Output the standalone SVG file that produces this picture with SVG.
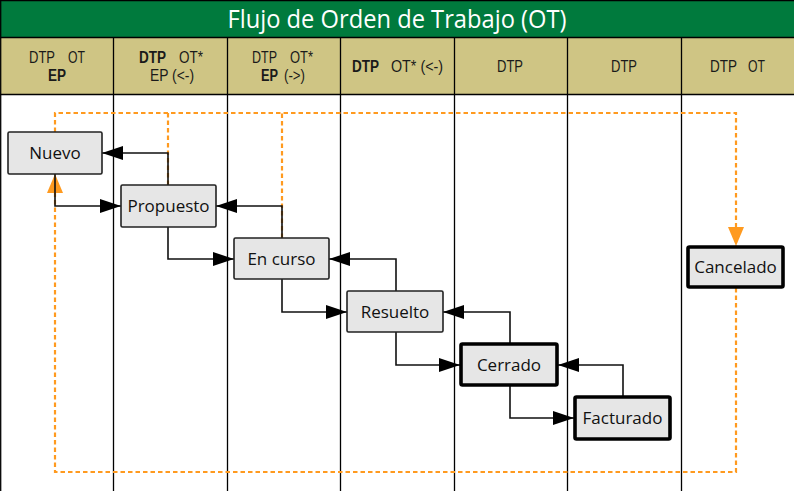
<svg xmlns="http://www.w3.org/2000/svg" width="794" height="491" viewBox="0 0 794 491">
<style>
.hdr{font-family:"Liberation Sans",Arial,sans-serif;font-size:16px;fill:#1a1a1a}
.b{font-weight:bold}
.grid{stroke:#000;stroke-width:1.3;fill:none}
.node rect{fill:#E6E6E6;stroke:#222;stroke-width:1.6}
.node.thick rect{stroke:#000;stroke-width:3.6}
.node text{font-family:"Open Sans","Noto Sans",sans-serif;font-size:17px;fill:#111;text-anchor:middle}
.conn{stroke:#111;stroke-width:1.6;fill:none}
.dash{stroke:#FF9A1F;stroke-width:2.2;fill:none;stroke-dasharray:4.5 3}
</style>
<defs>
<marker id="ab" markerUnits="userSpaceOnUse" viewBox="0 0 22 16" markerWidth="22" markerHeight="16" refX="21" refY="8" orient="auto"><path d="M0,1 L21,8 L0,15 z" fill="#000"/></marker>
<marker id="ao" markerUnits="userSpaceOnUse" viewBox="0 0 20 18" markerWidth="20" markerHeight="18" refX="19" refY="9" orient="auto"><path d="M0,1 L19,9 L0,17 z" fill="#FF9A1F"/></marker>
</defs>
<rect x="0" y="0" width="794" height="491" fill="#fff"/>
<g id="title">
<rect x="0" y="0" width="794" height="37.5" fill="#007A3D"/>
<text x="397" y="28" text-anchor="middle" textLength="339" lengthAdjust="spacingAndGlyphs" style="font-family:'Open Sans','Noto Sans',sans-serif;font-size:25px;font-weight:500;fill:#fff">Flujo de Orden de Trabajo (OT)</text>
</g>
<g id="header">
<rect x="0" y="37.5" width="794" height="57" fill="#CFC584"/>
<text class="hdr" x="29" y="63" textLength="26" lengthAdjust="spacingAndGlyphs">DTP</text>
<text class="hdr" x="68" y="63" textLength="17" lengthAdjust="spacingAndGlyphs">OT</text>
<text class="hdr b" x="48" y="81" textLength="18" lengthAdjust="spacingAndGlyphs">EP</text>
<text class="hdr b" x="139" y="63" textLength="27" lengthAdjust="spacingAndGlyphs">DTP</text>
<text class="hdr" x="179" y="63" textLength="24" lengthAdjust="spacingAndGlyphs">OT*</text>
<text class="hdr" x="150" y="81" textLength="44" lengthAdjust="spacingAndGlyphs">EP (&lt;-)</text>
<text class="hdr" x="252" y="63" textLength="25" lengthAdjust="spacingAndGlyphs">DTP</text>
<text class="hdr" x="290" y="63" textLength="23" lengthAdjust="spacingAndGlyphs">OT*</text>
<text class="hdr b" x="261" y="81" textLength="17" lengthAdjust="spacingAndGlyphs">EP</text>
<text class="hdr" x="284" y="81" textLength="21" lengthAdjust="spacingAndGlyphs">(-&gt;)</text>
<text class="hdr b" x="352" y="72" textLength="27" lengthAdjust="spacingAndGlyphs">DTP</text>
<text class="hdr" x="391" y="72" textLength="52" lengthAdjust="spacingAndGlyphs">OT* (&lt;-)</text>
<text class="hdr" x="497" y="72" textLength="26" lengthAdjust="spacingAndGlyphs">DTP</text>
<text class="hdr" x="611" y="72" textLength="26" lengthAdjust="spacingAndGlyphs">DTP</text>
<text class="hdr" x="710" y="72" textLength="27" lengthAdjust="spacingAndGlyphs">DTP</text>
<text class="hdr" x="748" y="72" textLength="17" lengthAdjust="spacingAndGlyphs">OT</text>
</g>
<g id="gridlines">
<path class="grid" d="M0,0.5 H794 M0,37.5 H794 M0,94.5 H794 M0.7,0 V491 M113.5,37.5 V491 M227.5,37.5 V491 M340.5,37.5 V491 M454.5,37.5 V491 M567.5,37.5 V491 M681.5,37.5 V491"/>
</g>
<g id="connectors">
<path class="dash" d="M55,132 V113 H736 V246" marker-end="url(#ao)"/>
<path class="dash" d="M168,185 V113"/>
<path class="dash" d="M282,238 V113"/>
<path class="dash" d="M736,288 V472 H55 V174" marker-end="url(#ao)"/>
<path class="conn" d="M168,185 V153 H102" marker-end="url(#ab)"/>
<path class="conn" d="M55,174 V206 H121" marker-end="url(#ab)"/>
<path class="conn" d="M282,238 V206 H216" marker-end="url(#ab)"/>
<path class="conn" d="M168,227 V259 H234" marker-end="url(#ab)"/>
<path class="conn" d="M396,291 V259 H329" marker-end="url(#ab)"/>
<path class="conn" d="M282,279 V312 H347" marker-end="url(#ab)"/>
<path class="conn" d="M510,343 V312 H443" marker-end="url(#ab)"/>
<path class="conn" d="M396,332 V365 H460" marker-end="url(#ab)"/>
<path class="conn" d="M623,396 V365 H558" marker-end="url(#ab)"/>
<path class="conn" d="M510,386 V418 H574" marker-end="url(#ab)"/>
</g>
<g id="nuevo" class="node"><rect x="8" y="132" width="94" height="42" rx="1.5"/><text x="55" y="159">Nuevo</text></g>
<g id="propuesto" class="node"><rect x="121" y="185" width="95" height="42" rx="1.5"/><text x="168.5" y="212">Propuesto</text></g>
<g id="encurso" class="node"><rect x="234" y="238" width="95" height="41" rx="1.5"/><text x="281.5" y="265">En curso</text></g>
<g id="resuelto" class="node"><rect x="347" y="291" width="96" height="41" rx="1.5"/><text x="395" y="318">Resuelto</text></g>
<g id="cerrado" class="node thick"><rect x="461" y="344" width="96" height="41" rx="1.5"/><text x="509" y="371">Cerrado</text></g>
<g id="facturado" class="node thick"><rect x="575" y="397" width="95" height="42" rx="1.5"/><text x="622.5" y="424">Facturado</text></g>
<g id="cancelado" class="node thick"><rect x="688" y="247" width="95" height="40" rx="1.5"/><text x="735.5" y="273">Cancelado</text></g>
</svg>
